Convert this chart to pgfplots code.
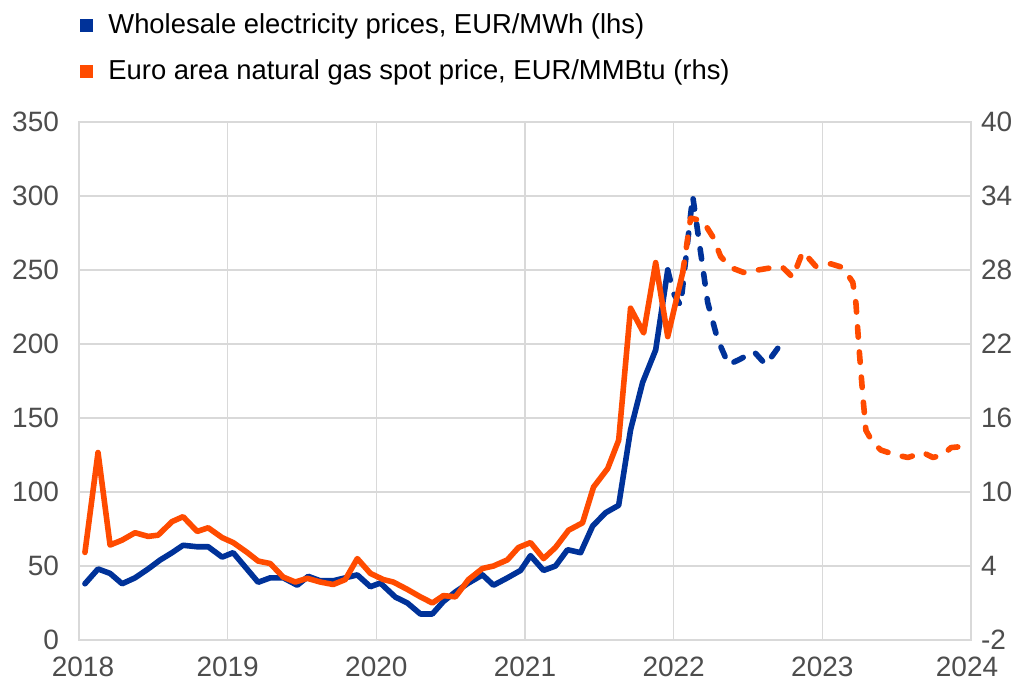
\documentclass[border=0pt]{standalone}
\usepackage{fontspec}
\setmainfont{Liberation Sans}
\usepackage{pgfplots}
\usepackage{pgfplotstable}
\pgfplotsset{compat=1.18}
\definecolor{ecbblue}{HTML}{003299}
\definecolor{ecborange}{HTML}{FF4B00}
\definecolor{gridgray}{HTML}{D9D9D9}
\definecolor{labelgray}{HTML}{4D4D4D}

\pgfplotstableread{
x y
2018.040 38
2018.128 48
2018.209 45
2018.290 38
2018.377 42
2018.465 48
2018.545 54
2018.626 59
2018.700 64
2018.795 63
2018.869 63
2018.963 56
2019.037 59
2019.205 39
2019.286 42
2019.374 42
2019.468 37
2019.542 43
2019.623 40
2019.710 40
2019.791 42
2019.872 44
2019.960 36
2020.027 38.5
2020.128 29
2020.209 25
2020.296 17.6
2020.377 17.6
2020.451 26
2020.532 32.5
2020.620 38.5
2020.714 44
2020.788 37
2020.882 42
2020.970 47
2021.037 57
2021.125 47
2021.205 50
2021.286 61
2021.374 59
2021.455 77
2021.542 86
2021.630 91
2021.710 142
2021.791 174
2021.879 196
2021.960 250
}\elecsolid

\pgfplotstableread{
x y
2021.960 250
2022.000 234
2022.047 226
2022.128 300
2022.229 228
2022.296 203
2022.370 186
2022.451 190
2022.539 195
2022.620 186
2022.721 200
}\elecdash

\pgfplotstableread{
x y
2018.040 5.1
2018.128 13.2
2018.209 5.7
2018.290 6.1
2018.377 6.7
2018.465 6.4
2018.532 6.5
2018.626 7.6
2018.700 8.0
2018.795 6.8
2018.869 7.1
2018.963 6.3
2019.037 5.9
2019.131 5.1
2019.205 4.4
2019.286 4.2
2019.374 3.1
2019.455 2.7
2019.535 3.0
2019.623 2.7
2019.710 2.5
2019.791 2.9
2019.872 4.6
2019.960 3.4
2020.047 2.9
2020.114 2.7
2020.209 2.1
2020.296 1.5
2020.377 1.0
2020.451 1.6
2020.532 1.5
2020.620 2.9
2020.714 3.8
2020.788 4.0
2020.882 4.5
2020.956 5.5
2021.037 5.9
2021.125 4.6
2021.205 5.5
2021.293 6.9
2021.387 7.5
2021.461 10.4
2021.556 11.9
2021.630 14.2
2021.710 24.9
2021.798 22.9
2021.879 28.6
2021.960 22.6
2022.061 27.8
}\gassolid

\pgfplotstableread{
x y
2022.061 27.8
2022.114 32.2
2022.195 32.0
2022.263 30.7
2022.316 29.1
2022.384 28.2
2022.471 27.8
2022.566 28.0
2022.667 28.2
2022.734 28.2
2022.801 27.4
2022.869 29.5
2022.956 28.3
2023.057 28.5
2023.138 28.2
2023.205 27.0
2023.226 25.3
2023.246 21.8
2023.273 17.7
2023.293 15.0
2023.340 14.0
2023.394 13.4
2023.495 13.0
2023.576 12.8
2023.677 13.2
2023.744 12.8
2023.811 13.0
2023.865 13.6
2023.953 13.7
}\gasdash

\begin{document}
\begin{tikzpicture}
\path[use as bounding box] (-39.5pt,-22pt) rectangle (474pt,320pt);
\pgfplotsset{
  common/.style={
    scale only axis, width=446pt, height=259pt,
    at={(0pt,0pt)}, anchor=south west,
    xmin=2018, xmax=2024,
    axis line style={gridgray, line width=0.7pt},
    major tick length=0pt,
    tick style={draw=none},
    ticklabel style={font=\fontsize{14}{16}\selectfont, text=labelgray},
    /pgf/number format/assume math mode=true,
    /pgf/number format/1000 sep={},
    clip=false,
  },
  series/.style={line width=2.8pt, line join=round, line cap=round},
  dashed series/.style={line width=2.8pt, line join=round, line cap=round, dash pattern=on 5.2pt off 7.4pt},
}
\begin{axis}[common,
  ymin=0, ymax=350, ytick={0,50,100,150,200,250,300,350},
  xtick={2018,2019,2020,2021,2022,2023,2024},
  xticklabels={\hspace*{4pt}2018,2019,2020,2021,2022,2023,2024\hspace*{4pt}},
  grid=major, major grid style={gridgray, line width=0.7pt},
  yticklabel style={xshift=-6.5pt},
  xticklabel style={yshift=-5pt},
]
\addplot[series, ecbblue] table[x=x,y=y] {\elecsolid};
\addplot[dashed series, ecbblue] table[x=x,y=y] {\elecdash};
\end{axis}
\begin{axis}[common,
  axis x line=none, axis y line*=right,
  ymin=-2, ymax=40, ytick={-2,4,10,16,22,28,34,40},
  yticklabels={-2,4,10,16,22,28,34,40},
  yticklabel style={xshift=1.5pt},
]
\addplot[series, ecborange] table[x=x,y=y] {\gassolid};
\addplot[dashed series, ecborange] table[x=x,y=y] {\gasdash};
\end{axis}
\fill[ecbblue] (0.5pt,303.75pt) rectangle (7pt,310.25pt);
\node[anchor=west, inner sep=0pt, font=\fontsize{13.7}{16}\selectfont, text=black] at (14.5pt,307pt) {Wholesale electricity prices, EUR/MWh (lhs)};
\fill[ecborange] (0.5pt,280.75pt) rectangle (7pt,287.25pt);
\node[anchor=west, inner sep=0pt, font=\fontsize{13.7}{16}\selectfont, text=black] at (14.5pt,284pt) {Euro area natural gas spot price, EUR/MMBtu (rhs)};
\end{tikzpicture}
\end{document}
